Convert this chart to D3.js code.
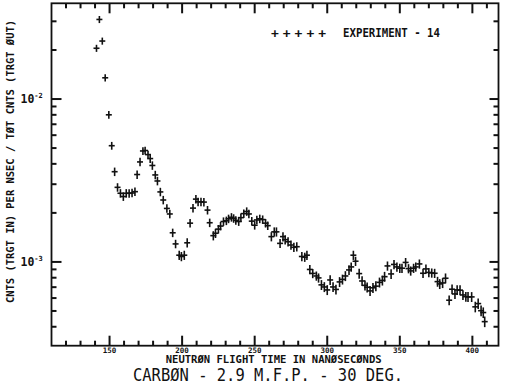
<!DOCTYPE html>
<html>
<head>
<meta charset="utf-8">
<script src="https://cdn.jsdelivr.net/npm/d3@7"></script>
<style>
  body { margin: 0; background: #fff; }
  svg { display: block; }
  text { font-family: "DejaVu Sans Mono", monospace; fill: #111; }
</style>
</head>
<body>
<div id="chart"></div>
<script>
// neutron flight time (ns) of each channel
const flightTime = [
  141, 143, 145, 147, 149.5, 151.5, 153.5, 155.5, 157.5, 159.5,
  161.5, 163.5, 165.5, 167.5, 169, 171, 173, 174.5, 176.5, 178,
  179.5, 181.5, 183, 185, 187, 189.5, 191.5, 193.5, 195.5, 198,
  199.5, 201.5, 203.5, 205.5, 207.5, 209.5, 211, 213, 215, 217.5,
  219, 221.5, 223, 225, 226.5, 228.5, 230.5, 232, 234, 235.5,
  237, 239, 240.5, 242.5, 244.5, 246, 248, 250, 251.5, 253.5,
  255.5, 257.5, 259, 261.5, 263.5, 265, 267.5, 269.5, 271, 273,
  275, 277, 279, 282.5, 284.5, 286, 288, 290, 292.5, 294,
  296, 298, 300, 302, 304, 306, 308.5, 310.5, 312.5, 315,
  316.5, 318, 319.5, 322, 324, 326, 327.5, 329.5, 331.5, 333.5,
  336, 338, 339.5, 341.5, 344, 346, 348, 350, 351.5, 354,
  356, 357.5, 359.5, 361, 363.5, 366, 368, 370, 372, 374,
  376, 377.5, 379.5, 381.5, 384, 386, 388, 389.5, 391.5, 393.5,
  395.5, 397, 399.5, 402, 404, 406, 407.5, 408.5
];

// cnts (trgt in) per nsec / tot cnts (trgt out)
const countRatio = [
  0.0205, 0.0308, 0.0227, 0.0135, 0.0080, 0.00517, 0.00358, 0.00287, 0.00264, 0.00252,
  0.00264, 0.00264, 0.00265, 0.00270, 0.00344, 0.00411, 0.00480, 0.00483, 0.00456, 0.00431,
  0.00391, 0.00342, 0.00314, 0.00269, 0.00240, 0.00213, 0.00197, 0.00151, 0.00129, 0.00110,
  0.00108, 0.00110, 0.00131, 0.00173, 0.00214, 0.00243, 0.00234, 0.00234, 0.00233, 0.00208,
  0.00174, 0.00145, 0.00150, 0.00159, 0.00166, 0.00177, 0.00179, 0.00184, 0.00188, 0.00185,
  0.00180, 0.00177, 0.00187, 0.00198, 0.00204, 0.00197, 0.00178, 0.00168, 0.00181, 0.00184,
  0.00182, 0.00173, 0.00167, 0.00143, 0.00153, 0.00153, 0.00130, 0.00143, 0.00137, 0.00133,
  0.00127, 0.00123, 0.00124, 0.00108, 0.00107, 0.00110, 0.000899, 0.000850, 0.000820, 0.000798,
  0.000723, 0.000702, 0.000673, 0.000775, 0.000702, 0.000678, 0.000754, 0.000781, 0.000820, 0.000893,
  0.000932, 0.00110, 0.00101, 0.000848, 0.000764, 0.000718, 0.000699, 0.000664, 0.000694, 0.000710,
  0.000749, 0.000770, 0.000812, 0.000945, 0.000844, 0.000965, 0.000932, 0.000915, 0.000915, 0.000993,
  0.000910, 0.000881, 0.000915, 0.000932, 0.000972, 0.000852, 0.000906, 0.000862, 0.000856, 0.000852,
  0.000757, 0.000733, 0.000743, 0.000794, 0.000582, 0.000680, 0.000636, 0.000673, 0.000671, 0.000627,
  0.000612, 0.000610, 0.000610, 0.000530, 0.000555, 0.000502, 0.000489, 0.000430
];

// relative statistical error of each point
const relError = [
  0.05, 0.05, 0.05, 0.05, 0.055, 0.055, 0.06, 0.06, 0.06, 0.06,
  0.06, 0.06, 0.06, 0.06, 0.06, 0.06, 0.055, 0.055, 0.055, 0.06,
  0.06, 0.06, 0.06, 0.06, 0.06, 0.06, 0.06, 0.06, 0.06, 0.065,
  0.065, 0.065, 0.065, 0.06, 0.06, 0.06, 0.06, 0.06, 0.06, 0.06,
  0.06, 0.065, 0.065, 0.06, 0.06, 0.06, 0.06, 0.06, 0.06, 0.06,
  0.06, 0.06, 0.06, 0.06, 0.06, 0.06, 0.06, 0.06, 0.06, 0.06,
  0.06, 0.06, 0.06, 0.065, 0.065, 0.065, 0.065, 0.065, 0.065, 0.065,
  0.065, 0.065, 0.065, 0.065, 0.065, 0.065, 0.065, 0.065, 0.065, 0.065,
  0.07, 0.07, 0.07, 0.07, 0.07, 0.07, 0.07, 0.07, 0.07, 0.07,
  0.065, 0.065, 0.065, 0.07, 0.07, 0.07, 0.07, 0.07, 0.07, 0.07,
  0.07, 0.07, 0.07, 0.065, 0.07, 0.065, 0.065, 0.065, 0.065, 0.065,
  0.065, 0.065, 0.065, 0.065, 0.065, 0.065, 0.065, 0.065, 0.065, 0.065,
  0.07, 0.07, 0.07, 0.07, 0.07, 0.07, 0.07, 0.07, 0.07, 0.07,
  0.07, 0.07, 0.07, 0.075, 0.075, 0.075, 0.075, 0.075
];

const xMajorTicks = [150, 200, 250, 300, 350, 400];
const xMinorTicks = [120, 130, 140, 160, 170, 180, 190, 210, 220, 230, 240, 260, 270, 280, 290,
                     310, 320, 330, 340, 360, 370, 380, 390, 410];
const yDecades = [1e-3, 1e-2];
const yDecadeExp = ["-3", "-2"];

const yTitle = "CNTS (TRGT IN) PER NSEC / TØT CNTS (TRGT ØUT)";
const xTitle = "NEUTRØN FLIGHT TIME IN NANØSECØNDS";
const chartTitle = "CARBØN - 2.9 M.F.P. - 30 DEG.";
const legendLabel = "EXPERIMENT - 14";

const width = 505, height = 390;
const plotLeft = 51.5, plotRight = 498.5, plotTop = 3.3, plotBottom = 345.7;
const ink = "#111";

const svg = d3.select("#chart").append("svg").attr("width", width).attr("height", height);

const x = d3.scaleLinear().domain([110, 418]).range([plotLeft, plotRight]);
const y = d3.scaleLog().domain([3.06e-4, 3.87e-2]).range([plotBottom, plotTop]);

const yMinor = y.ticks().filter(d => !yDecades.some(k => Math.abs(d - k) / k < 1e-6));

// inward tick marks on all four sides
const tickG = svg.append("g").attr("stroke", ink).attr("stroke-width", 2);
function vTicks(vals, y0, len) {
  tickG.append("g").selectAll("line").data(vals).join("line")
    .attr("x1", d => x(d)).attr("x2", d => x(d)).attr("y1", y0).attr("y2", y0 + len);
}
function hTicks(vals, x0, len) {
  tickG.append("g").selectAll("line").data(vals).join("line")
    .attr("y1", d => y(d)).attr("y2", d => y(d)).attr("x1", x0).attr("x2", x0 + len);
}
vTicks(xMinorTicks, plotBottom, -5);
vTicks(xMajorTicks, plotBottom, -10);
vTicks(xMinorTicks, plotTop, 5);
vTicks(xMajorTicks, plotTop, 10);
hTicks(yMinor, plotLeft, 5);
hTicks(yDecades, plotLeft, 10);
hTicks(yMinor, plotRight, -5);
hTicks(yDecades, plotRight, -9);

// x tick labels
svg.append("g").selectAll("text").data(xMajorTicks).join("text")
  .attr("x", d => x(d)).attr("y", plotBottom + 6.8)
  .attr("text-anchor", "middle").attr("font-size", 7.5).attr("font-weight", "bold")
  .text(d3.format("d"));

// decade labels 10^-n
const decLab = svg.append("g").selectAll("text").data(yDecades).join("text")
  .attr("x", 20.5).attr("y", d => y(d) + 4.3)
  .attr("font-size", 11.5).attr("font-weight", "bold");
decLab.append("tspan").text("10");
decLab.append("tspan").attr("font-size", 7).attr("dy", -5).text((d, i) => yDecadeExp[i]);

// frame
svg.append("rect").attr("x", plotLeft).attr("y", plotTop)
  .attr("width", plotRight - plotLeft).attr("height", plotBottom - plotTop)
  .attr("fill", "none").attr("stroke", ink).attr("stroke-width", 1.8);

// data points: error bar + channel marker
const pts = svg.append("g").attr("stroke", ink).attr("stroke-width", 1.6)
  .selectAll("g").data(flightTime.map((t, i) => ({t, v: countRatio[i], e: relError[i]})))
  .join("g");
pts.append("line")
  .attr("x1", d => x(d.t)).attr("x2", d => x(d.t))
  .attr("y1", d => y(d.v * (1 - d.e))).attr("y2", d => y(d.v * (1 + d.e)));
pts.append("line")
  .attr("x1", d => x(d.t) - 3).attr("x2", d => x(d.t) + 3)
  .attr("y1", d => y(d.v)).attr("y2", d => y(d.v));

// legend
svg.append("text").attr("x", 271).attr("y", 37.5).attr("font-size", 13).attr("font-weight", "bold")
  .attr("textLength", 55).attr("lengthAdjust", "spacing").text("+++++");
svg.append("text").attr("x", 343).attr("y", 36.7).attr("font-size", 11.5).attr("font-weight", "bold")
  .attr("textLength", 97).attr("lengthAdjust", "spacingAndGlyphs").text(legendLabel);

// axis titles
svg.append("text").attr("transform", "translate(14.2,161.5) rotate(-90)")
  .attr("text-anchor", "middle").attr("font-size", 11).attr("font-weight", "bold")
  .attr("textLength", 283).attr("lengthAdjust", "spacingAndGlyphs").text(yTitle);
svg.append("text").attr("x", 165.7).attr("y", 363.3).attr("font-size", 11).attr("font-weight", "bold")
  .attr("textLength", 216).attr("lengthAdjust", "spacingAndGlyphs").text(xTitle);
svg.append("text").attr("x", 133).attr("y", 381).attr("font-size", 17)
  .attr("textLength", 270).attr("lengthAdjust", "spacingAndGlyphs").text(chartTitle);
</script>
</body>
</html>
